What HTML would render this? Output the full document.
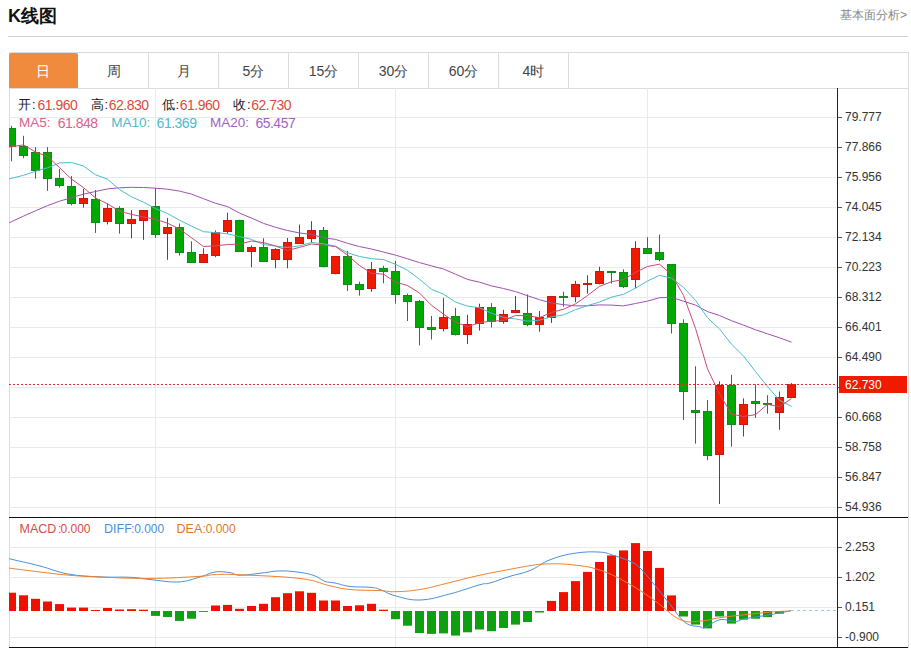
<!DOCTYPE html>
<html><head><meta charset="utf-8"><style>
html,body{margin:0;padding:0;background:#fff;}
body{width:911px;height:648px;overflow:hidden;position:relative;font-family:"Liberation Sans",sans-serif;color:#222;}
.abs{position:absolute;white-space:nowrap;}
.title{position:absolute;left:8px;top:4px;font-size:18px;font-weight:bold;color:#111;line-height:24px;}
.link{position:absolute;right:4px;top:7px;font-size:12px;color:#888;line-height:16px;}
.hr{position:absolute;left:8px;top:36px;width:900px;height:1px;background:#d0d0d0;}
.box{position:absolute;left:9px;top:52px;width:898px;height:595px;border:1px solid #dcdcdc;border-bottom:none;}
.tabbar{position:absolute;left:9px;top:88px;width:899px;height:1px;background:#dcdcdc;}
.tab{position:absolute;top:53px;width:70px;height:35px;line-height:37px;text-align:center;font-size:14px;color:#444;box-sizing:border-box;border-right:1px solid #dcdcdc;}
.tab.on{background:#f08a3c;color:#fff;border-right:1px solid #f08a3c;width:69px;border-radius:2px 2px 0 0;}
.yl{position:absolute;left:845px;font-size:12px;line-height:16px;color:#333;}
.lg{position:absolute;font-size:13px;line-height:16px;white-space:nowrap;}
svg{position:absolute;left:0;top:0;}
</style></head><body>
<div class="title">K线图</div>
<div class="link">基本面分析&gt;</div>
<div class="hr"></div>
<div class="box"></div>
<div class="tab on" style="left:9px">日</div><div class="tab" style="left:79px">周</div><div class="tab" style="left:149px">月</div><div class="tab" style="left:219px">5分</div><div class="tab" style="left:289px">15分</div><div class="tab" style="left:359px">30分</div><div class="tab" style="left:429px">60分</div><div class="tab" style="left:499px">4时</div>
<div class="tabbar"></div>
<svg width="911" height="648" viewBox="0 0 911 648"><defs><clipPath id="cm"><rect x="9" y="88" width="828" height="429"/></clipPath><clipPath id="cm2"><rect x="9" y="518" width="828" height="129"/></clipPath></defs><line x1="9" y1="117.5" x2="836" y2="117.5" stroke="#eaeaea" stroke-width="1"/><line x1="9" y1="147.5" x2="836" y2="147.5" stroke="#eaeaea" stroke-width="1"/><line x1="9" y1="177.5" x2="836" y2="177.5" stroke="#eaeaea" stroke-width="1"/><line x1="9" y1="207.5" x2="836" y2="207.5" stroke="#eaeaea" stroke-width="1"/><line x1="9" y1="237.5" x2="836" y2="237.5" stroke="#eaeaea" stroke-width="1"/><line x1="9" y1="267.5" x2="836" y2="267.5" stroke="#eaeaea" stroke-width="1"/><line x1="9" y1="297.5" x2="836" y2="297.5" stroke="#eaeaea" stroke-width="1"/><line x1="9" y1="327.5" x2="836" y2="327.5" stroke="#eaeaea" stroke-width="1"/><line x1="9" y1="357.5" x2="836" y2="357.5" stroke="#eaeaea" stroke-width="1"/><line x1="9" y1="387.5" x2="836" y2="387.5" stroke="#eaeaea" stroke-width="1"/><line x1="9" y1="417.5" x2="836" y2="417.5" stroke="#eaeaea" stroke-width="1"/><line x1="9" y1="447.5" x2="836" y2="447.5" stroke="#eaeaea" stroke-width="1"/><line x1="9" y1="477.5" x2="836" y2="477.5" stroke="#eaeaea" stroke-width="1"/><line x1="9" y1="507.5" x2="836" y2="507.5" stroke="#eaeaea" stroke-width="1"/><line x1="155.5" y1="88" x2="155.5" y2="647" stroke="#eaeaea" stroke-width="1"/><line x1="395.5" y1="88" x2="395.5" y2="647" stroke="#eaeaea" stroke-width="1"/><line x1="647.5" y1="88" x2="647.5" y2="647" stroke="#eaeaea" stroke-width="1"/><line x1="9" y1="547.5" x2="836" y2="547.5" stroke="#eaeaea" stroke-width="1"/><line x1="9" y1="577.5" x2="836" y2="577.5" stroke="#eaeaea" stroke-width="1"/><line x1="9" y1="607.5" x2="836" y2="607.5" stroke="#eaeaea" stroke-width="1"/><line x1="9" y1="637.5" x2="836" y2="637.5" stroke="#eaeaea" stroke-width="1"/><g clip-path="url(#cm)"><line x1="11.5" y1="125.8" x2="11.5" y2="161.3" stroke="#16852a" stroke-width="1"/><rect x="7.5" y="128.5" width="8" height="18" fill="#00a800" stroke="#16852a" stroke-width="1"/><line x1="23.5" y1="135.8" x2="23.5" y2="158.2" stroke="#16852a" stroke-width="1"/><rect x="19.5" y="146.5" width="8" height="9" fill="#00a800" stroke="#16852a" stroke-width="1"/><line x1="35.5" y1="147.1" x2="35.5" y2="178.6" stroke="#16852a" stroke-width="1"/><rect x="31.5" y="152.5" width="8" height="18" fill="#00a800" stroke="#16852a" stroke-width="1"/><line x1="47.5" y1="147.1" x2="47.5" y2="190.9" stroke="#16852a" stroke-width="1"/><rect x="43.5" y="152.5" width="8" height="26" fill="#00a800" stroke="#16852a" stroke-width="1"/><line x1="59.5" y1="169.0" x2="59.5" y2="187.5" stroke="#16852a" stroke-width="1"/><rect x="55.5" y="178.5" width="8" height="7" fill="#00a800" stroke="#16852a" stroke-width="1"/><line x1="71.5" y1="176.0" x2="71.5" y2="205.3" stroke="#16852a" stroke-width="1"/><rect x="67.5" y="186.5" width="8" height="17" fill="#00a800" stroke="#16852a" stroke-width="1"/><line x1="83.5" y1="188.8" x2="83.5" y2="207.6" stroke="#c41a12" stroke-width="1"/><rect x="79.5" y="198.5" width="8" height="5" fill="#f01a00" stroke="#c41a12" stroke-width="1"/><line x1="95.5" y1="190.0" x2="95.5" y2="232.9" stroke="#16852a" stroke-width="1"/><rect x="91.5" y="199.5" width="8" height="23" fill="#00a800" stroke="#16852a" stroke-width="1"/><line x1="107.5" y1="203.5" x2="107.5" y2="224.4" stroke="#c41a12" stroke-width="1"/><rect x="103.5" y="208.5" width="8" height="13" fill="#f01a00" stroke="#c41a12" stroke-width="1"/><line x1="119.5" y1="206.3" x2="119.5" y2="233.6" stroke="#16852a" stroke-width="1"/><rect x="115.5" y="208.5" width="8" height="15" fill="#00a800" stroke="#16852a" stroke-width="1"/><line x1="131.5" y1="210.2" x2="131.5" y2="238.3" stroke="#c41a12" stroke-width="1"/><rect x="127.5" y="219.5" width="8" height="4" fill="#f01a00" stroke="#c41a12" stroke-width="1"/><line x1="143.5" y1="210.2" x2="143.5" y2="239.8" stroke="#c41a12" stroke-width="1"/><rect x="139.5" y="210.5" width="8" height="10" fill="#f01a00" stroke="#c41a12" stroke-width="1"/><line x1="155.5" y1="188.1" x2="155.5" y2="238.0" stroke="#16852a" stroke-width="1"/><rect x="151.5" y="206.5" width="8" height="28" fill="#00a800" stroke="#16852a" stroke-width="1"/><line x1="167.5" y1="218.1" x2="167.5" y2="259.8" stroke="#c41a12" stroke-width="1"/><rect x="163.5" y="227.5" width="8" height="6" fill="#f01a00" stroke="#c41a12" stroke-width="1"/><line x1="179.5" y1="223.5" x2="179.5" y2="255.5" stroke="#16852a" stroke-width="1"/><rect x="175.5" y="227.5" width="8" height="25" fill="#00a800" stroke="#16852a" stroke-width="1"/><line x1="191.5" y1="241.3" x2="191.5" y2="263.0" stroke="#16852a" stroke-width="1"/><rect x="187.5" y="252.5" width="8" height="10" fill="#00a800" stroke="#16852a" stroke-width="1"/><line x1="203.5" y1="248.2" x2="203.5" y2="262.6" stroke="#c41a12" stroke-width="1"/><rect x="199.5" y="254.5" width="8" height="8" fill="#f01a00" stroke="#c41a12" stroke-width="1"/><line x1="215.5" y1="230.5" x2="215.5" y2="257.2" stroke="#c41a12" stroke-width="1"/><rect x="211.5" y="232.5" width="8" height="23" fill="#f01a00" stroke="#c41a12" stroke-width="1"/><line x1="227.5" y1="212.7" x2="227.5" y2="233.6" stroke="#c41a12" stroke-width="1"/><rect x="223.5" y="220.5" width="8" height="11" fill="#f01a00" stroke="#c41a12" stroke-width="1"/><line x1="239.5" y1="219.7" x2="239.5" y2="252.1" stroke="#16852a" stroke-width="1"/><rect x="235.5" y="220.5" width="8" height="31" fill="#00a800" stroke="#16852a" stroke-width="1"/><line x1="251.5" y1="245.4" x2="251.5" y2="267.2" stroke="#c41a12" stroke-width="1"/><rect x="247.5" y="247.5" width="8" height="4" fill="#f01a00" stroke="#c41a12" stroke-width="1"/><line x1="263.5" y1="238.2" x2="263.5" y2="262.1" stroke="#16852a" stroke-width="1"/><rect x="259.5" y="247.5" width="8" height="14" fill="#00a800" stroke="#16852a" stroke-width="1"/><line x1="275.5" y1="248.2" x2="275.5" y2="268.3" stroke="#c41a12" stroke-width="1"/><rect x="271.5" y="249.5" width="8" height="10" fill="#f01a00" stroke="#c41a12" stroke-width="1"/><line x1="287.5" y1="237.9" x2="287.5" y2="268.3" stroke="#c41a12" stroke-width="1"/><rect x="283.5" y="242.5" width="8" height="17" fill="#f01a00" stroke="#c41a12" stroke-width="1"/><line x1="299.5" y1="224.6" x2="299.5" y2="243.6" stroke="#c41a12" stroke-width="1"/><rect x="295.5" y="237.5" width="8" height="6" fill="#f01a00" stroke="#c41a12" stroke-width="1"/><line x1="311.5" y1="221.2" x2="311.5" y2="242.8" stroke="#c41a12" stroke-width="1"/><rect x="307.5" y="230.5" width="8" height="8" fill="#f01a00" stroke="#c41a12" stroke-width="1"/><line x1="323.5" y1="227.0" x2="323.5" y2="267.4" stroke="#16852a" stroke-width="1"/><rect x="319.5" y="230.5" width="8" height="36" fill="#00a800" stroke="#16852a" stroke-width="1"/><line x1="335.5" y1="256.0" x2="335.5" y2="274.3" stroke="#c41a12" stroke-width="1"/><rect x="331.5" y="256.5" width="8" height="17" fill="#f01a00" stroke="#c41a12" stroke-width="1"/><line x1="347.5" y1="250.9" x2="347.5" y2="291.0" stroke="#16852a" stroke-width="1"/><rect x="343.5" y="256.5" width="8" height="28" fill="#00a800" stroke="#16852a" stroke-width="1"/><line x1="359.5" y1="281.7" x2="359.5" y2="295.6" stroke="#16852a" stroke-width="1"/><rect x="355.5" y="284.5" width="8" height="5" fill="#00a800" stroke="#16852a" stroke-width="1"/><line x1="371.5" y1="262.0" x2="371.5" y2="291.8" stroke="#c41a12" stroke-width="1"/><rect x="367.5" y="269.5" width="8" height="19" fill="#f01a00" stroke="#c41a12" stroke-width="1"/><line x1="383.5" y1="265.8" x2="383.5" y2="283.3" stroke="#16852a" stroke-width="1"/><rect x="379.5" y="268.5" width="8" height="3" fill="#00a800" stroke="#16852a" stroke-width="1"/><line x1="395.5" y1="260.9" x2="395.5" y2="303.6" stroke="#16852a" stroke-width="1"/><rect x="391.5" y="271.5" width="8" height="23" fill="#00a800" stroke="#16852a" stroke-width="1"/><line x1="407.5" y1="293.7" x2="407.5" y2="321.0" stroke="#16852a" stroke-width="1"/><rect x="403.5" y="295.5" width="8" height="6" fill="#00a800" stroke="#16852a" stroke-width="1"/><line x1="419.5" y1="300.0" x2="419.5" y2="345.4" stroke="#16852a" stroke-width="1"/><rect x="415.5" y="301.5" width="8" height="26" fill="#00a800" stroke="#16852a" stroke-width="1"/><line x1="431.5" y1="316.0" x2="431.5" y2="339.5" stroke="#16852a" stroke-width="1"/><rect x="427.5" y="327.5" width="8" height="2" fill="#00a800" stroke="#16852a" stroke-width="1"/><line x1="443.5" y1="298.1" x2="443.5" y2="331.3" stroke="#c41a12" stroke-width="1"/><rect x="439.5" y="317.5" width="8" height="11" fill="#f01a00" stroke="#c41a12" stroke-width="1"/><line x1="455.5" y1="307.9" x2="455.5" y2="335.5" stroke="#16852a" stroke-width="1"/><rect x="451.5" y="316.5" width="8" height="18" fill="#00a800" stroke="#16852a" stroke-width="1"/><line x1="467.5" y1="314.8" x2="467.5" y2="344.1" stroke="#c41a12" stroke-width="1"/><rect x="463.5" y="324.5" width="8" height="10" fill="#f01a00" stroke="#c41a12" stroke-width="1"/><line x1="479.5" y1="303.7" x2="479.5" y2="330.6" stroke="#c41a12" stroke-width="1"/><rect x="475.5" y="307.5" width="8" height="16" fill="#f01a00" stroke="#c41a12" stroke-width="1"/><line x1="491.5" y1="303.1" x2="491.5" y2="327.5" stroke="#16852a" stroke-width="1"/><rect x="487.5" y="307.5" width="8" height="14" fill="#00a800" stroke="#16852a" stroke-width="1"/><line x1="503.5" y1="309.8" x2="503.5" y2="323.7" stroke="#c41a12" stroke-width="1"/><rect x="499.5" y="314.5" width="8" height="7" fill="#f01a00" stroke="#c41a12" stroke-width="1"/><line x1="515.5" y1="295.9" x2="515.5" y2="313.2" stroke="#c41a12" stroke-width="1"/><rect x="511.5" y="310.5" width="8" height="2" fill="#f01a00" stroke="#c41a12" stroke-width="1"/><line x1="527.5" y1="294.4" x2="527.5" y2="326.3" stroke="#16852a" stroke-width="1"/><rect x="523.5" y="313.5" width="8" height="11" fill="#00a800" stroke="#16852a" stroke-width="1"/><line x1="539.5" y1="311.0" x2="539.5" y2="331.7" stroke="#c41a12" stroke-width="1"/><rect x="535.5" y="317.5" width="8" height="7" fill="#f01a00" stroke="#c41a12" stroke-width="1"/><line x1="551.5" y1="295.9" x2="551.5" y2="322.9" stroke="#c41a12" stroke-width="1"/><rect x="547.5" y="296.5" width="8" height="21" fill="#f01a00" stroke="#c41a12" stroke-width="1"/><line x1="563.5" y1="291.7" x2="563.5" y2="306.8" stroke="#16852a" stroke-width="1"/><rect x="559.5" y="296.5" width="8" height="1" fill="#00a800" stroke="#16852a" stroke-width="1"/><line x1="575.5" y1="280.9" x2="575.5" y2="302.2" stroke="#c41a12" stroke-width="1"/><rect x="571.5" y="284.5" width="8" height="12" fill="#f01a00" stroke="#c41a12" stroke-width="1"/><line x1="587.5" y1="275.2" x2="587.5" y2="293.7" stroke="#c41a12" stroke-width="1"/><rect x="583.5" y="283.5" width="8" height="1" fill="#f01a00" stroke="#c41a12" stroke-width="1"/><line x1="599.5" y1="266.7" x2="599.5" y2="284.4" stroke="#c41a12" stroke-width="1"/><rect x="595.5" y="271.5" width="8" height="12" fill="#f01a00" stroke="#c41a12" stroke-width="1"/><line x1="611.5" y1="270.8" x2="611.5" y2="283.6" stroke="#16852a" stroke-width="1"/><rect x="607.5" y="271.5" width="8" height="1" fill="#00a800" stroke="#16852a" stroke-width="1"/><line x1="623.5" y1="269.3" x2="623.5" y2="288.0" stroke="#16852a" stroke-width="1"/><rect x="619.5" y="272.5" width="8" height="14" fill="#00a800" stroke="#16852a" stroke-width="1"/><line x1="635.5" y1="241.2" x2="635.5" y2="288.3" stroke="#c41a12" stroke-width="1"/><rect x="631.5" y="248.5" width="8" height="31" fill="#f01a00" stroke="#c41a12" stroke-width="1"/><line x1="647.5" y1="237.3" x2="647.5" y2="253.5" stroke="#16852a" stroke-width="1"/><rect x="643.5" y="248.5" width="8" height="5" fill="#00a800" stroke="#16852a" stroke-width="1"/><line x1="659.5" y1="234.6" x2="659.5" y2="261.3" stroke="#16852a" stroke-width="1"/><rect x="655.5" y="252.5" width="8" height="7" fill="#00a800" stroke="#16852a" stroke-width="1"/><line x1="671.5" y1="264.4" x2="671.5" y2="333.5" stroke="#16852a" stroke-width="1"/><rect x="667.5" y="264.5" width="8" height="59" fill="#00a800" stroke="#16852a" stroke-width="1"/><line x1="683.5" y1="319.3" x2="683.5" y2="420.1" stroke="#16852a" stroke-width="1"/><rect x="679.5" y="323.5" width="8" height="68" fill="#00a800" stroke="#16852a" stroke-width="1"/><line x1="695.5" y1="366.3" x2="695.5" y2="443.6" stroke="#16852a" stroke-width="1"/><rect x="691.5" y="410.5" width="8" height="2" fill="#00a800" stroke="#16852a" stroke-width="1"/><line x1="707.5" y1="400.0" x2="707.5" y2="460.2" stroke="#16852a" stroke-width="1"/><rect x="703.5" y="411.5" width="8" height="44" fill="#00a800" stroke="#16852a" stroke-width="1"/><line x1="719.5" y1="381.3" x2="719.5" y2="504.0" stroke="#c41a12" stroke-width="1"/><rect x="715.5" y="385.5" width="8" height="69" fill="#f01a00" stroke="#c41a12" stroke-width="1"/><line x1="731.5" y1="374.8" x2="731.5" y2="446.7" stroke="#16852a" stroke-width="1"/><rect x="727.5" y="385.5" width="8" height="39" fill="#00a800" stroke="#16852a" stroke-width="1"/><line x1="743.5" y1="398.3" x2="743.5" y2="436.5" stroke="#c41a12" stroke-width="1"/><rect x="739.5" y="404.5" width="8" height="20" fill="#f01a00" stroke="#c41a12" stroke-width="1"/><line x1="755.5" y1="384.4" x2="755.5" y2="417.8" stroke="#16852a" stroke-width="1"/><rect x="751.5" y="401.5" width="8" height="2" fill="#00a800" stroke="#16852a" stroke-width="1"/><line x1="767.5" y1="395.2" x2="767.5" y2="413.7" stroke="#16852a" stroke-width="1"/><rect x="763.5" y="403.5" width="8" height="1" fill="#00a800" stroke="#16852a" stroke-width="1"/><line x1="779.5" y1="391.5" x2="779.5" y2="429.8" stroke="#c41a12" stroke-width="1"/><rect x="775.5" y="397.5" width="8" height="15" fill="#f01a00" stroke="#c41a12" stroke-width="1"/><line x1="791.5" y1="383.1" x2="791.5" y2="397.7" stroke="#c41a12" stroke-width="1"/><rect x="787.5" y="384.5" width="8" height="13" fill="#f01a00" stroke="#c41a12" stroke-width="1"/></g><g clip-path="url(#cm)" fill="none" stroke-width="1"><path d="M8.0,223.3 L11.5,221.7 L23.5,216.1 L35.5,210.8 L47.5,205.6 L59.5,201.2 L71.5,197.7 L83.5,194.1 L95.5,191.5 L107.5,188.9 L119.5,187.8 L131.5,187.3 L143.5,187.5 L155.5,188.2 L167.5,189.2 L179.5,191.1 L191.5,194.1 L203.5,198.7 L215.5,203.3 L227.5,206.6 L239.5,213.1 L251.5,218.1 L263.5,223.4 L275.5,227.3 L287.5,230.5 L299.5,233.0 L311.5,234.3 L323.5,237.8 L335.5,239.4 L347.5,243.3 L359.5,246.6 L371.5,249.0 L383.5,252.1 L395.5,255.1 L407.5,258.8 L419.5,262.6 L431.5,265.9 L443.5,269.0 L455.5,274.2 L467.5,279.4 L479.5,282.2 L491.5,285.9 L503.5,288.5 L515.5,291.6 L527.5,295.7 L539.5,299.7 L551.5,303.0 L563.5,304.6 L575.5,305.9 L587.5,305.8 L599.5,304.9 L611.5,305.1 L623.5,305.9 L635.5,303.5 L647.5,301.1 L659.5,297.7 L671.5,297.4 L683.5,301.2 L695.5,305.1 L707.5,311.6 L719.5,315.5 L731.5,320.7 L743.5,325.1 L755.5,329.8 L767.5,333.8 L779.5,337.8 L791.5,342.2" stroke="#9e52b0"/><path d="M8.0,179.2 L11.5,178.3 L23.5,175.3 L35.5,171.3 L47.5,167.8 L59.5,163.0 L71.5,162.5 L83.5,166.0 L95.5,174.8 L107.5,179.2 L119.5,189.5 L131.5,196.8 L143.5,202.2 L155.5,208.6 L167.5,213.5 L179.5,220.2 L191.5,226.1 L203.5,231.7 L215.5,232.6 L227.5,233.8 L239.5,236.6 L251.5,239.4 L263.5,244.5 L275.5,246.0 L287.5,247.5 L299.5,245.8 L311.5,242.5 L323.5,243.8 L335.5,246.2 L347.5,252.7 L359.5,256.5 L371.5,258.7 L383.5,259.6 L395.5,264.3 L407.5,270.2 L419.5,279.3 L431.5,289.3 L443.5,294.2 L455.5,302.1 L467.5,306.1 L479.5,307.8 L491.5,313.2 L503.5,317.4 L515.5,318.9 L527.5,321.2 L539.5,320.1 L551.5,316.8 L563.5,314.9 L575.5,309.7 L587.5,305.6 L599.5,302.0 L611.5,297.1 L623.5,294.3 L635.5,288.1 L647.5,281.0 L659.5,275.3 L671.5,278.1 L683.5,287.4 L695.5,300.4 L707.5,317.7 L719.5,329.0 L731.5,344.2 L743.5,356.0 L755.5,371.5 L767.5,386.6 L779.5,400.3 L791.5,406.4" stroke="#4cbcd0"/><path d="M8.0,147.2 L11.5,146.7 L23.5,144.9 L35.5,152.0 L47.5,156.4 L59.5,167.6 L71.5,179.1 L83.5,187.6 L95.5,198.0 L107.5,203.8 L119.5,211.3 L131.5,214.4 L143.5,216.9 L155.5,219.3 L167.5,223.2 L179.5,229.0 L191.5,237.8 L203.5,246.5 L215.5,245.9 L227.5,244.5 L239.5,244.2 L251.5,241.0 L263.5,242.6 L275.5,246.0 L287.5,250.4 L299.5,247.4 L311.5,244.0 L323.5,245.1 L335.5,246.5 L347.5,255.0 L359.5,265.5 L371.5,273.3 L383.5,274.2 L395.5,282.1 L407.5,285.5 L419.5,293.0 L431.5,305.3 L443.5,314.2 L455.5,322.2 L467.5,326.7 L479.5,322.7 L491.5,321.1 L503.5,320.6 L515.5,315.5 L527.5,315.7 L539.5,317.6 L551.5,312.5 L563.5,309.2 L575.5,303.9 L587.5,295.5 L599.5,286.4 L611.5,281.7 L623.5,279.5 L635.5,272.4 L647.5,266.5 L659.5,264.2 L671.5,274.4 L683.5,295.4 L695.5,328.4 L707.5,368.9 L719.5,393.9 L731.5,414.1 L743.5,416.5 L755.5,414.7 L767.5,404.3 L779.5,406.7 L791.5,398.6" stroke="#cc4a72"/></g><line x1="9" y1="384.5" x2="837" y2="384.5" stroke="#e03030" stroke-width="1" stroke-dasharray="2,2"/><g clip-path="url(#cm2)"><rect x="7" y="592.7" width="9" height="18.3" fill="#ee1100"/><rect x="19" y="595.3" width="9" height="15.7" fill="#ee1100"/><rect x="31" y="598.8" width="9" height="12.2" fill="#ee1100"/><rect x="43" y="601.5" width="9" height="9.5" fill="#ee1100"/><rect x="55" y="604.1" width="9" height="6.9" fill="#ee1100"/><rect x="67" y="607.6" width="9" height="3.4" fill="#ee1100"/><rect x="79" y="607.6" width="9" height="3.4" fill="#ee1100"/><rect x="91" y="610.0" width="9" height="1.0" fill="#ee1100"/><rect x="103" y="608.0" width="9" height="3.0" fill="#ee1100"/><rect x="115" y="609.5" width="9" height="1.5" fill="#ee1100"/><rect x="127" y="609.2" width="9" height="1.8" fill="#ee1100"/><rect x="139" y="609.7" width="9" height="1.3" fill="#ee1100"/><rect x="151" y="611.0" width="9" height="4.9" fill="#0ea00e"/><rect x="163" y="611.0" width="9" height="6.0" fill="#0ea00e"/><rect x="175" y="611.0" width="9" height="9.9" fill="#0ea00e"/><rect x="187" y="611.0" width="9" height="7.7" fill="#0ea00e"/><rect x="199" y="611.0" width="9" height="0.9" fill="#0ea00e"/><rect x="211" y="605.5" width="9" height="5.5" fill="#ee1100"/><rect x="223" y="604.9" width="9" height="6.1" fill="#ee1100"/><rect x="235" y="608.8" width="9" height="2.2" fill="#ee1100"/><rect x="247" y="606.0" width="9" height="5.0" fill="#ee1100"/><rect x="259" y="603.8" width="9" height="7.2" fill="#ee1100"/><rect x="271" y="597.2" width="9" height="13.8" fill="#ee1100"/><rect x="283" y="593.2" width="9" height="17.8" fill="#ee1100"/><rect x="295" y="591.3" width="9" height="19.7" fill="#ee1100"/><rect x="307" y="592.8" width="9" height="18.2" fill="#ee1100"/><rect x="319" y="600.5" width="9" height="10.5" fill="#ee1100"/><rect x="331" y="600.5" width="9" height="10.5" fill="#ee1100"/><rect x="343" y="606.0" width="9" height="5.0" fill="#ee1100"/><rect x="355" y="605.3" width="9" height="5.7" fill="#ee1100"/><rect x="367" y="603.8" width="9" height="7.2" fill="#ee1100"/><rect x="379" y="609.7" width="9" height="1.3" fill="#ee1100"/><rect x="391" y="611.0" width="9" height="8.2" fill="#0ea00e"/><rect x="403" y="611.0" width="9" height="14.7" fill="#0ea00e"/><rect x="415" y="611.0" width="9" height="22.0" fill="#0ea00e"/><rect x="427" y="611.0" width="9" height="22.9" fill="#0ea00e"/><rect x="439" y="611.0" width="9" height="22.4" fill="#0ea00e"/><rect x="451" y="611.0" width="9" height="24.6" fill="#0ea00e"/><rect x="463" y="611.0" width="9" height="21.3" fill="#0ea00e"/><rect x="475" y="611.0" width="9" height="18.5" fill="#0ea00e"/><rect x="487" y="611.0" width="9" height="20.2" fill="#0ea00e"/><rect x="499" y="611.0" width="9" height="17.0" fill="#0ea00e"/><rect x="511" y="611.0" width="9" height="13.6" fill="#0ea00e"/><rect x="523" y="611.0" width="9" height="11.0" fill="#0ea00e"/><rect x="535" y="611.0" width="9" height="1.5" fill="#0ea00e"/><rect x="547" y="600.9" width="9" height="10.1" fill="#ee1100"/><rect x="559" y="592.1" width="9" height="18.9" fill="#ee1100"/><rect x="571" y="581.1" width="9" height="29.9" fill="#ee1100"/><rect x="583" y="571.9" width="9" height="39.1" fill="#ee1100"/><rect x="595" y="562.0" width="9" height="49.0" fill="#ee1100"/><rect x="607" y="555.4" width="9" height="55.6" fill="#ee1100"/><rect x="619" y="550.4" width="9" height="60.6" fill="#ee1100"/><rect x="631" y="543.1" width="9" height="67.9" fill="#ee1100"/><rect x="643" y="551.0" width="9" height="60.0" fill="#ee1100"/><rect x="655" y="567.9" width="9" height="43.1" fill="#ee1100"/><rect x="667" y="595.4" width="9" height="15.6" fill="#ee1100"/><rect x="679" y="611.0" width="9" height="5.5" fill="#0ea00e"/><rect x="691" y="611.0" width="9" height="13.6" fill="#0ea00e"/><rect x="703" y="611.0" width="9" height="17.4" fill="#0ea00e"/><rect x="715" y="611.0" width="9" height="5.5" fill="#0ea00e"/><rect x="727" y="611.0" width="9" height="12.6" fill="#0ea00e"/><rect x="739" y="611.0" width="9" height="8.6" fill="#0ea00e"/><rect x="751" y="611.0" width="9" height="7.7" fill="#0ea00e"/><rect x="763" y="611.0" width="9" height="6.1" fill="#0ea00e"/><rect x="775" y="611.0" width="9" height="2.7" fill="#0ea00e"/></g><g clip-path="url(#cm2)" fill="none" stroke-width="1"><path d="M9.0,558.7 C15.2,560.2 28.2,562.9 40.0,566.0 C51.8,569.1 56.0,571.8 68.0,574.0 C80.0,576.2 87.6,576.2 100.0,576.9 C112.4,577.6 120.0,576.8 130.0,577.3 C140.0,577.8 140.4,578.6 150.0,579.5 C159.6,580.4 168.0,582.5 178.0,582.0 C188.0,581.5 192.6,579.0 200.0,577.0 C207.4,575.0 209.0,572.9 215.0,572.0 C221.0,571.1 225.0,572.0 230.0,572.6 C235.0,573.2 233.6,575.1 240.0,575.2 C246.4,575.3 254.0,573.9 262.0,573.0 C270.0,572.1 272.4,571.0 280.0,570.9 C287.6,570.8 293.0,571.4 300.0,572.4 C307.0,573.4 310.0,574.1 315.0,575.9 C320.0,577.7 321.0,580.0 325.0,581.4 C329.0,582.8 330.0,582.0 335.0,583.0 C340.0,584.0 343.0,585.6 350.0,586.5 C357.0,587.4 364.0,586.7 370.0,587.3 C376.0,587.9 375.0,587.8 380.0,589.5 C385.0,591.2 387.0,593.6 395.0,595.7 C403.0,597.8 409.0,600.4 420.0,600.0 C431.0,599.6 438.0,597.0 450.0,593.9 C462.0,590.8 472.0,586.9 480.0,584.7 C488.0,582.5 484.0,584.7 490.0,583.0 C496.0,581.3 502.0,578.8 510.0,576.3 C518.0,573.8 522.0,573.8 530.0,570.5 C538.0,567.2 541.0,563.3 550.0,559.8 C559.0,556.3 565.0,554.7 575.0,553.2 C585.0,551.7 592.0,551.6 600.0,552.1 C608.0,552.6 609.0,554.1 615.0,555.9 C621.0,557.7 625.0,558.9 630.0,561.3 C635.0,563.7 635.0,563.2 640.0,568.0 C645.0,572.8 649.0,578.3 655.0,585.5 C661.0,592.7 664.0,596.8 670.0,604.2 C676.0,611.6 679.0,617.9 685.0,622.4 C691.0,626.9 696.0,625.8 700.0,626.8 C704.0,627.8 701.0,628.9 705.0,627.5 C709.0,626.1 714.0,620.8 720.0,619.6 C726.0,618.4 730.0,621.8 735.0,621.6 C740.0,621.4 738.0,620.1 745.0,618.7 C752.0,617.3 760.8,616.3 770.0,614.7 C779.2,613.1 786.8,611.6 791.0,610.8" stroke="#4a90d9"/><path d="M9.0,568.1 C15.2,568.9 28.2,570.6 40.0,572.0 C51.8,573.4 56.0,574.1 68.0,575.1 C80.0,576.1 83.6,576.3 100.0,577.0 C116.4,577.7 130.0,578.5 150.0,578.4 C170.0,578.3 187.0,577.1 200.0,576.3 C213.0,575.5 207.0,574.9 215.0,574.6 C223.0,574.3 223.0,574.0 240.0,574.8 C257.0,575.6 282.0,576.3 300.0,578.5 C318.0,580.7 320.0,583.6 330.0,585.8 C340.0,588.0 340.0,588.5 350.0,589.5 C360.0,590.5 371.0,590.2 380.0,590.6 C389.0,591.0 387.0,591.9 395.0,591.7 C403.0,591.5 409.0,591.3 420.0,589.5 C431.0,587.7 438.0,585.4 450.0,582.5 C462.0,579.6 468.0,577.8 480.0,575.2 C492.0,572.6 500.0,571.2 510.0,569.3 C520.0,567.4 523.0,566.8 530.0,565.7 C537.0,564.6 537.0,564.2 545.0,564.0 C553.0,563.8 559.0,563.4 570.0,564.6 C581.0,565.8 588.0,566.1 600.0,570.1 C612.0,574.1 619.0,578.2 630.0,584.4 C641.0,590.6 645.0,593.9 655.0,600.9 C665.0,607.9 671.0,615.5 680.0,619.5 C689.0,623.5 692.0,621.5 700.0,621.1 C708.0,620.7 711.0,619.0 720.0,617.7 C729.0,616.4 735.0,615.8 745.0,614.7 C755.0,613.6 760.8,612.9 770.0,612.1 C779.2,611.3 786.8,611.1 791.0,610.8" stroke="#f07f2a"/></g><line x1="791" y1="610.5" x2="837" y2="610.5" stroke="#8fd0e0" stroke-width="1" stroke-dasharray="3,3"/><line x1="837.5" y1="88" x2="837.5" y2="647" stroke="#222" stroke-width="1"/><line x1="9" y1="517.5" x2="908" y2="517.5" stroke="#111" stroke-width="1"/><line x1="9" y1="647.5" x2="908" y2="647.5" stroke="#111" stroke-width="1"/><line x1="838" y1="117.5" x2="842" y2="117.5" stroke="#555"/><line x1="838" y1="147.5" x2="842" y2="147.5" stroke="#555"/><line x1="838" y1="177.5" x2="842" y2="177.5" stroke="#555"/><line x1="838" y1="207.5" x2="842" y2="207.5" stroke="#555"/><line x1="838" y1="237.5" x2="842" y2="237.5" stroke="#555"/><line x1="838" y1="267.5" x2="842" y2="267.5" stroke="#555"/><line x1="838" y1="297.5" x2="842" y2="297.5" stroke="#555"/><line x1="838" y1="327.5" x2="842" y2="327.5" stroke="#555"/><line x1="838" y1="357.5" x2="842" y2="357.5" stroke="#555"/><line x1="838" y1="387.5" x2="842" y2="387.5" stroke="#555"/><line x1="838" y1="417.5" x2="842" y2="417.5" stroke="#555"/><line x1="838" y1="447.5" x2="842" y2="447.5" stroke="#555"/><line x1="838" y1="477.5" x2="842" y2="477.5" stroke="#555"/><line x1="838" y1="507.5" x2="842" y2="507.5" stroke="#555"/><line x1="838" y1="547.5" x2="842" y2="547.5" stroke="#555"/><line x1="838" y1="577.5" x2="842" y2="577.5" stroke="#555"/><line x1="838" y1="607.5" x2="842" y2="607.5" stroke="#555"/><line x1="838" y1="637.5" x2="842" y2="637.5" stroke="#555"/><rect x="839" y="376" width="68" height="17" fill="#f01a00"/></svg>
<div class="yl" style="top:109px;color:#333">79.777</div><div class="yl" style="top:139px;color:#333">77.866</div><div class="yl" style="top:169px;color:#333">75.956</div><div class="yl" style="top:199px;color:#333">74.045</div><div class="yl" style="top:229px;color:#333">72.134</div><div class="yl" style="top:259px;color:#333">70.223</div><div class="yl" style="top:289px;color:#333">68.312</div><div class="yl" style="top:319px;color:#333">66.401</div><div class="yl" style="top:349px;color:#333">64.490</div><div class="yl" style="top:377px;color:#fff">62.730</div><div class="yl" style="top:409px;color:#333">60.668</div><div class="yl" style="top:439px;color:#333">58.758</div><div class="yl" style="top:469px;color:#333">56.847</div><div class="yl" style="top:499px;color:#333">54.936</div><div class="yl" style="top:539px">2.253</div><div class="yl" style="top:569px">1.202</div><div class="yl" style="top:599px">0.151</div><div class="yl" style="top:629px">-0.900</div>
<div class="lg" style="left:18px;top:97px;color:#222;font-size:13px;letter-spacing:0px;">开</div><div class="lg" style="left:32px;top:97px;color:#222;font-size:13px;letter-spacing:0px;">:</div><div class="lg" style="left:37.5px;top:97px;color:#dc4a40;font-size:14px;letter-spacing:-0.5px;">61.960</div><div class="lg" style="left:90.5px;top:97px;color:#222;font-size:13px;letter-spacing:0px;">高</div><div class="lg" style="left:104.5px;top:97px;color:#222;font-size:13px;letter-spacing:0px;">:</div><div class="lg" style="left:108.8px;top:97px;color:#dc4a40;font-size:14px;letter-spacing:-0.5px;">62.830</div><div class="lg" style="left:161.5px;top:97px;color:#222;font-size:13px;letter-spacing:0px;">低</div><div class="lg" style="left:175.5px;top:97px;color:#222;font-size:13px;letter-spacing:0px;">:</div><div class="lg" style="left:179.7px;top:97px;color:#dc4a40;font-size:14px;letter-spacing:-0.5px;">61.960</div><div class="lg" style="left:233px;top:97px;color:#222;font-size:13px;letter-spacing:0px;">收</div><div class="lg" style="left:247px;top:97px;color:#222;font-size:13px;letter-spacing:0px;">:</div><div class="lg" style="left:251.3px;top:97px;color:#dc4a40;font-size:14px;letter-spacing:-0.5px;">62.730</div><div class="lg" style="left:19px;top:115px;color:#d9628e;font-size:13.5px;letter-spacing:0px;">MA5:</div><div class="lg" style="left:57.8px;top:115px;color:#d9628e;font-size:14px;letter-spacing:-0.5px;">61.848</div><div class="lg" style="left:111.3px;top:115px;color:#48bcd2;font-size:13.5px;letter-spacing:0px;">MA10:</div><div class="lg" style="left:156.6px;top:115px;color:#48bcd2;font-size:14px;letter-spacing:-0.5px;">61.369</div><div class="lg" style="left:210.1px;top:115px;color:#a462c4;font-size:13.5px;letter-spacing:0px;">MA20:</div><div class="lg" style="left:255.4px;top:115px;color:#a462c4;font-size:14px;letter-spacing:-0.5px;">65.457</div><div class="lg" style="left:19.5px;top:521px;color:#d84a4a;font-size:12.5px;letter-spacing:0px;">MACD</div><div class="lg" style="left:58px;top:521px;color:#d84a4a;font-size:12px;letter-spacing:0px;">:</div><div class="lg" style="left:60.5px;top:521px;color:#d84a4a;font-size:12px;letter-spacing:0px;">0.000</div><div class="lg" style="left:104px;top:521px;color:#4a90d9;font-size:12.5px;letter-spacing:0px;">DIFF</div><div class="lg" style="left:131px;top:521px;color:#4a90d9;font-size:12px;letter-spacing:0px;">:</div><div class="lg" style="left:134.2px;top:521px;color:#4a90d9;font-size:12px;letter-spacing:0px;">0.000</div><div class="lg" style="left:176.6px;top:521px;color:#e0782a;font-size:12.5px;letter-spacing:0px;">DEA</div><div class="lg" style="left:202.5px;top:521px;color:#e0782a;font-size:12px;letter-spacing:0px;">:</div><div class="lg" style="left:205.7px;top:521px;color:#e0782a;font-size:12px;letter-spacing:0px;">0.000</div>
</body></html>
